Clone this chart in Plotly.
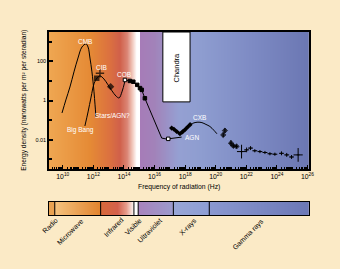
import numpy as np
import plotly.graph_objects as go

# ---------------- data (frequency in Hz, energy density in nW m^-2 sr^-1) ----------------
cmb_freq = [8.9e9, 1.6e10, 2.95e10, 5.4e10, 9.9e10, 1.8e11, 3.3e11, 4.5e11, 6.0e11, 8.1e11, 1.1e12, 1.29e12, 1.48e12]
cmb_energy = [0.23, 1.07, 4.9, 29, 148, 540, 780, 540, 148, 29, 2.8, 0.6, 0.145]

cib_freq = [2.8e11, 4.5e11, 7.1e11, 1.1e12, 1.74e12, 2.7e12, 4.9e12, 9.1e12, 1.66e13, 3.0e13, 4.8e13, 7.4e13, 1.17e14]
cib_energy = [0.05, 0.26, 1.5, 7.1, 14, 18, 12.6, 6.3, 3.1, 1.7, 1.35, 2.75, 10]

cib_pts_freq = [1.66e12, 2.7e12, 1.35e13]
cib_pts_energy = [13.8, 24.5, 5.1]
cib_pts_symbol = ["square", "cross-thin", "diamond"]

cob_freq = [1.17e14, 2.45e14, 4.1e14, 7.4e14, 1.12e15, 1.45e15, 2.34e15]
cob_energy = [11.2, 10, 9.1, 6.3, 4.3, 3.5, 1.3]

uv_freq = [6.5e15, 2.95e16, 6.2e16, 7.9e16, 5.9e17]
uv_energy = [0.19, 0.012, 0.0107, 0.011, 0.0135]
uv_point_freq = [7.9e16]
uv_point_energy = [0.011]

xray_freq = [1.32e17, 1.86e17, 2.8e17, 4.6e17, 6.8e17, 9.8e17, 1.41e18, 2.1e18]
xray_energy = [0.039, 0.034, 0.026, 0.020, 0.025, 0.032, 0.043, 0.058]

cxb_freq = [2.1e18, 3.8e18, 6.9e18, 1.26e19, 2.3e19, 4.2e19, 7.6e19, 1.2e20]
cxb_energy = [0.058, 0.072, 0.078, 0.074, 0.060, 0.047, 0.030, 0.020]

gamma_freq = [3.1e20, 4.0e20, 1.0e21, 1.41e21, 2.3e21, 4.9e21, 1.05e22, 1.9e22, 3.6e22, 7.8e22,
              1.66e23, 3.5e23, 7.4e23, 2.0e24, 4.4e24, 9.1e24, 2.45e25]
gamma_energy = [0.0174, 0.029, 0.0066, 0.0048, 0.0045, 0.00245, 0.0030, 0.0037, 0.0027, 0.00245,
                0.0022, 0.0019, 0.0018, 0.0020, 0.00166, 0.0013, 0.00166]
gamma_err_y_dex = [0.12, 0.12, 0.15, 0.1, 0.1, 0.35, 0.12, 0.1, 0.08, 0.08, 0.08, 0.08, 0.08, 0.1, 0.1, 0.1, 0.35]
gamma_err_x_dex = [0.0, 0.0, 0.1, 0.1, 0.1, 0.3, 0.16, 0.16, 0.16, 0.16, 0.16, 0.16, 0.16, 0.16, 0.16, 0.16, 0.3]

band_names = ["Radio", "Microwave", "Infrared", "Visible", "Ultraviolet", "X-rays", "Gamma rays"]
band_edges = [3.0e9, 3.0e12, 4.5e14, 8.5e14, 1.7e17, 3.8e19]

chandra_band = [3.5e16, 2.1e18]
chandra_floor = 0.85

# ---------------- geometry / style ----------------
X_MIN, X_MAX = 9.1, 26.1     # log10 Hz
Y_MIN, Y_MAX = -3.5, 3.5     # log10 energy density
FONT = "Liberation Sans"
BG = "#FBEAC6"
MAIN_DOM = [0.2514, 1.0]
BAR_DOM = [0.0, 0.071]

def scale(stops):
    return [[(v - X_MIN) / (X_MAX - X_MIN), c] for v, c in stops]

main_stops = [(9.1, "#EFA752"), (11.8, "#E58A35"), (13.1, "#DB7040"), (13.75, "#D0604A"),
              (14.25, "#DC8878"), (14.6, "#F3CFC4"), (14.84, "#FFFFFF"), (15.07, "#FFFFFF"),
              (15.09, "#A67CB8"), (16.0, "#A282B9"), (17.6, "#95A0D2"), (19.0, "#8E9DD0"),
              (22.3, "#7E8BC4"), (26.1, "#6B77B3")]
bar_stops = [(9.1, "#E9A252"), (9.47, "#E9A252"), (9.5, "#F4C27E"), (12.46, "#E2842E"),
             (12.5, "#D86A3A"), (13.6, "#D4604C"), (14.2, "#E8A090"), (14.6, "#FBEDEA"),
             (14.66, "#FFFFFF"), (14.93, "#FFFFFF"), (14.95, "#A883BC"), (17.2, "#9C9ACC"),
             (17.24, "#98A6D6"), (19.56, "#8E9ED4"), (19.6, "#8A98D0"), (26.1, "#6C78B6")]

fig = go.Figure()

gx = np.linspace(X_MIN, X_MAX, 800)
fig.add_trace(go.Heatmap(x=gx, y=[Y_MIN, Y_MAX], z=[gx, gx], colorscale=scale(main_stops),
                         zmin=X_MIN, zmax=X_MAX, showscale=False, hoverinfo="skip",
                         xaxis="x", yaxis="y"))
fig.add_trace(go.Heatmap(x=gx, y=[0, 1], z=[gx, gx], colorscale=scale(bar_stops),
                         zmin=X_MIN, zmax=X_MAX, showscale=False, hoverinfo="skip",
                         xaxis="x3", yaxis="y3"))

def line_trace(f, e, width=1, shape="spline"):
    return go.Scatter(x=f, y=e, mode="lines", line=dict(color="black", width=width, shape=shape),
                      xaxis="x2", yaxis="y2", hoverinfo="skip")

fig.add_trace(line_trace(cmb_freq, cmb_energy))
fig.add_trace(line_trace(cib_freq, cib_energy))
fig.add_trace(line_trace(cob_freq + uv_freq, cob_energy + uv_energy, shape="linear"))
fig.add_trace(line_trace(cxb_freq, cxb_energy))
fig.add_trace(go.Scatter(x=xray_freq, y=xray_energy, mode="lines+markers",
                         line=dict(color="black", width=2.5),
                         marker=dict(symbol="diamond", size=4, color="black"),
                         xaxis="x2", yaxis="y2", hoverinfo="skip"))

fig.add_trace(go.Scatter(x=cib_pts_freq, y=cib_pts_energy, mode="markers",
                         marker=dict(symbol=cib_pts_symbol, size=[4, 6, 4], color="black",
                                     line=dict(color="black", width=1.5)),
                         xaxis="x2", yaxis="y2", hoverinfo="skip"))
cob_fill = ["white"] + ["black"] * (len(cob_freq) - 1)
fig.add_trace(go.Scatter(x=cob_freq, y=cob_energy, mode="markers",
                         marker=dict(symbol="square", size=3.5, color=cob_fill,
                                     line=dict(color="black", width=1)),
                         xaxis="x2", yaxis="y2", hoverinfo="skip"))
fig.add_trace(go.Scatter(x=uv_point_freq, y=uv_point_energy, mode="markers",
                         marker=dict(symbol="square", size=3.5, color="white",
                                     line=dict(color="black", width=1)),
                         xaxis="x2", yaxis="y2", hoverinfo="skip"))

ge = np.array(gamma_energy)
gf = np.array(gamma_freq)
dy = np.array(gamma_err_y_dex)
dx = np.array(gamma_err_x_dex)
gsym = ["diamond"] * 5 + ["line-ew"] * (len(gamma_freq) - 5)
gsize = [4] * 5 + [2] * (len(gamma_freq) - 5)
fig.add_trace(go.Scatter(
    x=gf, y=ge, mode="markers",
    marker=dict(symbol=gsym, size=gsize, color="black", line=dict(color="black", width=1)),
    error_y=dict(type="data", symmetric=False, array=ge * (10 ** dy - 1),
                 arrayminus=ge * (1 - 10 ** -dy), color="black", thickness=1, width=0),
    error_x=dict(type="data", symmetric=False, array=gf * (10 ** dx - 1),
                 arrayminus=gf * (1 - 10 ** -dx), color="black", thickness=1, width=0),
    xaxis="x2", yaxis="y2", hoverinfo="skip"))

shapes = []
shapes.append(dict(type="rect", xref="x", yref="y",
                   x0=np.log10(chandra_band[0]), x1=np.log10(chandra_band[1]),
                   y0=np.log10(chandra_floor), y1=Y_MAX,
                   fillcolor="white", line=dict(color="black", width=1)))
for edge in band_edges:
    xe = float(np.log10(edge))
    shapes.append(dict(type="line", xref="x3", yref="y3", x0=xe, x1=xe, y0=0, y1=1,
                       line=dict(color="black", width=1)))

annotations = []
label_font = dict(family=FONT, size=6.5, color="white")
for txt, lx, ly in [("CMB", 11.45, 3.04), ("CIB", 12.54, 1.69), ("COB", 14.0, 1.31),
                    ("Stars/AGN?", 13.22, -0.79), ("Big Bang", 11.13, -1.5),
                    ("AGN", 18.45, -1.91), ("CXB", 18.97, -0.89)]:
    annotations.append(dict(text=txt, x=lx, y=ly, xref="x", yref="y", showarrow=False,
                            font=label_font))
annotations.append(dict(text="Chandra", x=float(np.mean(np.log10(chandra_band))), y=1.71,
                        xref="x", yref="y", showarrow=False, textangle=-90,
                        font=dict(family=FONT, size=7.5, color="black")))

edges_log = [X_MIN] + [float(np.log10(e)) for e in band_edges] + [X_MAX]
for i, name in enumerate(band_names):
    cx = 0.5 * (edges_log[i] + edges_log[i + 1])
    annotations.append(dict(text=name, x=cx, y=0, xref="x3", yref="y3", showarrow=False,
                            textangle=-45, xanchor="right", yanchor="top", xshift=10, yshift=1,
                            font=dict(family=FONT, size=7, color="black")))

annotations.append(dict(text="Frequency of radiation (Hz)", x=0.5, y=0.155, xref="paper",
                        yref="paper", xanchor="center", yanchor="middle", showarrow=False,
                        font=dict(family=FONT, size=6.8, color="black")))
annotations.append(dict(text="Energy density (nanowatts per m\u00b2 per steradian)", x=-0.097,
                        y=0.628, xref="paper", yref="paper", xanchor="center", yanchor="middle",
                        showarrow=False, textangle=-90,
                        font=dict(family=FONT, size=6.6, color="black")))

fig.update_layout(
    width=340, height=269,
    margin=dict(l=49, r=31, t=32, b=54),
    paper_bgcolor=BG, plot_bgcolor="rgba(0,0,0,0)",
    showlegend=False,
    font=dict(family=FONT, size=6, color="black"),
    xaxis=dict(visible=False, range=[X_MIN, X_MAX], domain=[0, 1], anchor="y", fixedrange=True),
    yaxis=dict(visible=False, range=[Y_MIN, Y_MAX], domain=MAIN_DOM, anchor="x", fixedrange=True),
    xaxis2=dict(type="log", range=[X_MIN, X_MAX], overlaying="x", anchor="y2",
                dtick=2, tick0=0, ticks="inside", ticklen=4, tickwidth=1, tickcolor="black",
                exponentformat="power", showexponent="all", showgrid=False, zeroline=False,
                showline=True, mirror=True, linecolor="black", linewidth=1.5,
                tickfont=dict(family=FONT, size=5.5, color="black"),
                minor=dict(ticks="inside", ticklen=2, dtick="D1", tickcolor="black", showgrid=False)),
    yaxis2=dict(type="log", range=[Y_MIN, Y_MAX], overlaying="y", anchor="x2",
                dtick=2, tick0=0, ticks="inside", ticklen=4, tickwidth=2, tickcolor="black",
                exponentformat="none", showgrid=False, zeroline=False,
                showline=True, mirror=True, linecolor="black", linewidth=1.5,
                tickfont=dict(family=FONT, size=5.5, color="black"),
                minor=dict(ticks="inside", ticklen=3, dtick=1, tickwidth=1.5, tickcolor="black",
                           showgrid=False)),
    xaxis3=dict(range=[X_MIN, X_MAX], domain=[0, 1], anchor="y3", showticklabels=False,
                ticks="", showgrid=False, zeroline=False, showline=True, mirror=True,
                linecolor="black", linewidth=1.2, fixedrange=True),
    yaxis3=dict(range=[0, 1], domain=BAR_DOM, anchor="x3", showticklabels=False, ticks="",
                showgrid=False, zeroline=False, showline=True, mirror=True,
                linecolor="black", linewidth=1.2, fixedrange=True),
    shapes=shapes,
    annotations=annotations,
)

fig.write_html("out.html", config={"displayModeBar": False},
               post_script="document.body.style.margin='0px';document.body.style.overflow='hidden';")
